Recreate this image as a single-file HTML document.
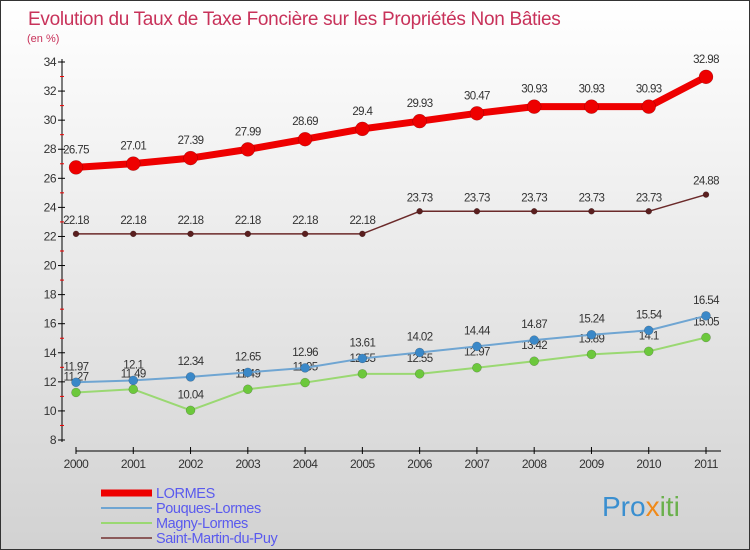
<!DOCTYPE html>
<html><head><meta charset="utf-8"><style>
body{margin:0;}
#c{width:750px;height:550px;position:relative;overflow:hidden;background:linear-gradient(#ffffff,#d2d2d2);box-sizing:border-box;border:1px solid #333;font-family:"Liberation Sans",sans-serif;}
text{font-family:"Liberation Sans",sans-serif;}
</style></head><body>
<div id="c">
<svg id="s" width="750" height="550">
<text x="27" y="24" font-size="19" letter-spacing="-0.3" fill="#c8325a">Evolution du Taux de Taxe Foncière sur les Propriétés Non Bâties</text>
<text x="26" y="41" font-size="11" fill="#c8325a">(en %)</text>
<text x="601" y="515" font-size="28" fill="#3a8fd0">Pro<tspan fill="#f08a1a">x</tspan><tspan fill="#6ab04c">iti</tspan></text>
</svg>
</div>
<script>
const years=["2000","2001","2002","2003","2004","2005","2006","2007","2008","2009","2010","2011"];
const lormes=[26.75,27.01,27.39,27.99,28.69,29.4,29.93,30.47,30.93,30.93,30.93,32.98];
const pouques=[11.97,12.1,12.34,12.65,12.96,13.61,14.02,14.44,14.87,15.24,15.54,16.54];
const magny=[11.27,11.49,10.04,11.49,11.95,12.55,12.55,12.97,13.42,13.89,14.1,15.05];
const stmartin=[22.18,22.18,22.18,22.18,22.18,22.18,23.73,23.73,23.73,23.73,23.73,24.88];
const yTicks=[8,10,12,14,16,18,20,22,24,26,28,30,32,34];
const NS="http://www.w3.org/2000/svg";
const svg=document.getElementById('s');
const X=i=>75+i*(630/11);
const Y=v=>439-(v-8)*(378/26);
function el(t,a,p){const e=document.createElementNS(NS,t);for(const k in a)e.setAttribute(k,a[k]);(p||svg).appendChild(e);return e;}
const ax=el('g',{});


el('line',{x1:61,y1:58,x2:61,y2:441,stroke:'#000','stroke-width':1},ax);
el('line',{x1:75,y1:450,x2:720,y2:450,stroke:'#000','stroke-width':1},ax);
yTicks.forEach(v=>{
 el('line',{x1:57,y1:Y(v),x2:64,y2:Y(v),stroke:'#000'},ax);
 if(v<34) el('line',{x1:59,y1:Y(v+1),x2:63,y2:Y(v+1),stroke:'#e00'},ax);
 const t=el('text',{x:55,y:Y(v)+4,'font-size':12,'letter-spacing':-0.5,'text-anchor':'end',fill:'#333'},ax);
 t.textContent=v;
 
 
});
years.forEach((y,i)=>{
 el('line',{x1:X(i),y1:446,x2:X(i),y2:453,stroke:'#000'},ax);
 const t=el('text',{x:X(i),y:467,'font-size':12,'letter-spacing':-0.5,'text-anchor':'middle',fill:'#333'},ax);
 t.textContent=y;
 
 
});
function series(name,data,color,w,r,pcol,labelDy){
 const g=el('g',{});
 
 
 el('polyline',{points:data.map((v,i)=>X(i)+','+Y(v)).join(' '),fill:'none',stroke:color,'stroke-width':w,'stroke-linejoin':'round'},g);
 data.forEach((v,i)=>{
  const c=el('circle',{cx:X(i),cy:Y(v),r:r,fill:pcol,stroke:'rgba(0,0,0,0.3)','stroke-width':0.5},g);
  
  
  const t=el('text',{x:X(i),y:Y(v)+labelDy,'font-size':11.5,'letter-spacing':-0.6,'text-anchor':'middle',fill:'#333'},g);
  t.textContent=String(v);
  
  
 });
}
series('magny',magny,'#9ad872',2,4.5,'#6cc83c',-12);
series('pouques',pouques,'#6fa5d2',2,4.5,'#3a88c8',-12);
series('saint-martin',stmartin,'#6b2a2a',1.5,3,'#5a1f1f',-10);
series('lormes',lormes,'#ee0000',7,7,'#ee0000',-14);
const leg=[['LORMES','#ee0000',7],['Pouques-Lormes','#6fa5d2',2],['Magny-Lormes','#9ad872',2],['Saint-Martin-du-Puy','#8b5a5a',2]];
leg.forEach((l,i)=>{
 const g=el('g',{});
 
 
 const y=492+i*15;
 el('line',{x1:100,y1:y,x2:151,y2:y,stroke:l[1],'stroke-width':l[2]},g);
 const t=el('text',{x:155,y:y+5,'font-size':14.5,'letter-spacing':-0.4,fill:'#5a5aee'},g);
 t.textContent=l[0];
});
</script>
</body></html>
